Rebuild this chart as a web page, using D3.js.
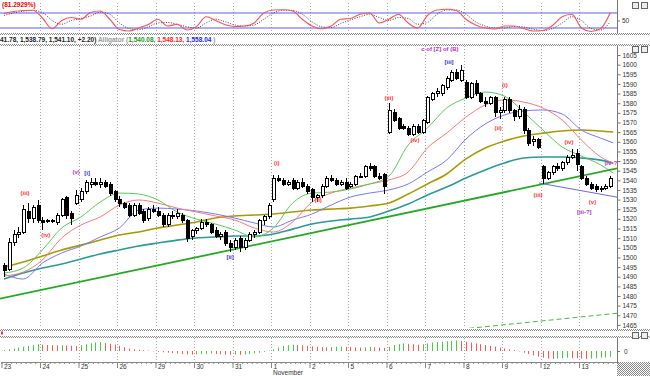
<!DOCTYPE html>
<html>
<head>
<meta charset="UTF-8">
<script src="https://cdn.jsdelivr.net/npm/d3@7"></script>
<style>
  body { margin: 0; background: #fff; }
  text { font-family: "Liberation Sans", Arial, sans-serif; }
</style>
</head>
<body>
<svg id="chart" width="650" height="376"></svg>
<script>
// ---- data ----
const days = ["23","24","25","26","29","30","31","1","2","5","6","7","8","9","12","13"];
const priceTicks = [1465,1470,1475,1480,1485,1490,1495,1500,1505,1510,1515,1520,1525,1530,1535,1540,1545,1550,1555,1560,1565,1570,1575,1580,1585,1590,1595,1600,1605];

const opens = [1496,1494,1508,1512,1513,1524,1520,1527, 1519,1519,1519,1518,1522,1531,1523,1528,
  1530,1534,1538,1539,1538,1539,1538,1534, 1530,1528,1527,1522,1527,1524,1520,1525,
  1524,1522,1517,1522,1521,1522,1519,1511, 1514,1515,1518,1517,1514,1511,1513,1507,
  1505,1510,1505,1509,1512,1513,1519,1521, 1530,1541,1540,1538,1540,1536,1539,1537,
  1535,1531,1532,1537,1541,1540,1538,1539, 1537,1538,1542,1542,1547,1547,1542,1543,
  1565,1575,1572,1568,1567,1564,1568,1565, 1570,1582,1585,1585,1588,1592,1596,1592,
  1591,1583,1590,1585,1581,1580,1583,1575, 1576,1582,1576,1573,1577,1566,1560,1561,
  1547,1541,1544,1547,1546,1549,1552,1554, 1547,1541,1538,1537,1535,1536,1537];
const highs = [1497,1510,1514,1516,1527,1528,1527,1530, 1521,1520,1520,1523,1531,1532,1524,1535,
  1536,1540,1541,1541,1541,1540,1539,1535, 1532,1529,1528,1528,1528,1525,1526,1527,
  1526,1523,1523,1524,1525,1523,1520,1515, 1516,1520,1520,1518,1516,1513,1514,1509,
  1510,1511,1510,1513,1514,1520,1522,1528, 1543,1543,1541,1540,1541,1540,1541,1538,
  1536,1533,1538,1542,1543,1541,1540,1541, 1539,1543,1544,1548,1549,1548,1544,1544,
  1580,1577,1573,1569,1568,1569,1569,1572, 1584,1586,1588,1590,1594,1597,1598,1600,
  1592,1591,1592,1586,1583,1584,1584,1578, 1583,1583,1577,1579,1578,1567,1563,1562,
  1548,1545,1548,1549,1550,1553,1556,1556, 1548,1542,1539,1538,1537,1538,1542];
const lows = [1490,1493,1506,1510,1512,1518,1518,1518, 1514,1518,1518,1517,1521,1520,1517,1527,
  1529,1533,1536,1537,1536,1536,1532,1529, 1526,1525,1521,1521,1522,1518,1519,1523,
  1521,1516,1516,1520,1520,1518,1508,1509, 1512,1514,1516,1512,1510,1509,1506,1503,
  1504,1503,1504,1508,1510,1512,1517,1520, 1529,1539,1537,1537,1535,1535,1536,1533,
  1529,1529,1531,1536,1539,1537,1537,1535, 1536,1537,1541,1541,1545,1541,1540,1533,
  1564,1570,1566,1566,1563,1563,1564,1564, 1569,1581,1583,1584,1587,1591,1592,1591,
  1582,1582,1584,1580,1578,1579,1573,1572, 1575,1575,1571,1572,1564,1558,1558,1556,
  1538,1540,1543,1545,1545,1548,1551,1545, 1540,1537,1535,1534,1534,1535,1536];
const closes = [1493,1508,1512,1513,1525,1520,1526,1519, 1518,1519,1519,1522,1530,1522,1520,1532,
  1534,1539,1539,1538,1539,1537,1533,1530, 1528,1526,1522,1527,1523,1519,1525,1524,
  1522,1517,1522,1521,1523,1519,1510,1514, 1515,1518,1517,1513,1511,1512,1507,1505,
  1509,1505,1509,1512,1513,1519,1521,1527, 1541,1540,1538,1539,1536,1539,1537,1534,
  1531,1532,1537,1541,1540,1538,1539,1536, 1538,1542,1542,1547,1546,1542,1541,1537,
  1576,1571,1567,1567,1564,1568,1565,1571, 1583,1585,1586,1589,1593,1596,1593,1597,
  1583,1590,1585,1581,1580,1583,1575,1576, 1582,1576,1573,1577,1566,1559,1561,1557,
  1541,1544,1547,1546,1549,1552,1553,1548, 1541,1538,1536,1535,1536,1537,1541];

// moving averages, sampled every 4 bars
const maIdx = [0,4,8,12,16,20,24,28,32,36,40,44,48,52,56,60,64,68,72,76,80,84,88,92,96,100,104,108,112,116,120,124,126.6];
const maOlive = [1495.0,1497.6,1500.7,1503.9,1506.4,1509.0,1511.6,1513.2,1515.3,1516.8,1518.4,1520.5,1521.5,1522.0,1522.5,1523.6,1524.6,1525.1,1525.6,1526.7,1528.2,1532.9,1538.1,1543.3,1551.1,1556.8,1560.4,1563.0,1564.5,1565.6,1566.1,1565.6,1565.1];
const maTeal = [1488.8,1491.9,1494.5,1496.6,1499.2,1501.8,1503.9,1505.9,1507.5,1509.0,1510.1,1510.6,1511.1,1511.1,1512.2,1514.7,1517.3,1518.9,1519.9,1521.0,1524.1,1527.7,1532.4,1536.5,1541.2,1545.4,1549.0,1551.6,1552.1,1552.1,1551.6,1550.5,1549.0];
const jaw = [1491.4,1488.8,1497.1,1502.3,1505.9,1510.6,1515.3,1524.6,1525.6,1525.1,1524.1,1522.5,1520.4,1517.9,1515.8,1519.4,1522.5,1527.2,1531.3,1533.4,1535.0,1538.1,1544.3,1550.5,1561.4,1569.2,1573.9,1576.0,1576.5,1574.4,1566.1,1561.9,1559.4];
const teeth = [1490.4,1492.4,1498.7,1510.1,1516.8,1521.0,1527.2,1529.8,1528.2,1525.6,1523.6,1521.5,1519.4,1515.3,1513.2,1518.4,1528.7,1533.4,1536.0,1538.1,1540.2,1544.3,1556.8,1564.5,1572.8,1579.1,1581.7,1580.6,1577.5,1571.3,1560.9,1552.1,1549.0];
const lips = [1491.9,1494.5,1503.9,1515.3,1521.0,1528.7,1533.4,1532.9,1529.8,1523.6,1519.9,1517.3,1514.2,1510.6,1515.3,1528.2,1533.4,1533.9,1535.5,1538.1,1542.2,1558.3,1567.1,1577.5,1582.7,1585.8,1583.7,1575.4,1566.1,1557.3,1552.6,1548.0,1543.8];

// drawn trend lines [bar, price]
const trendMain = [[-1, 1478.5], [128, 1546.5]];
const trendLower = [[111.2, 1538.6], [128, 1531.0]];
const trendDashed = [[95, 1462.8], [128, 1471.2]];

// stochastic, every 2 bars
const stIdx = [0,2,4,6,8,10,12,14,16,18,20,22,24,26,28,30,32,34,36,38,40,42,44,46,48,50,52,54,56,58,60,62,64,66,68,70,72,74,76,78,80,82,84,86,88,90,92,94,96,98,100,102,104,106,108,110,112,114,116,118,120,122,124,126];
const stK = [78,86,90,91,60,17,50,62,55,82,88,55,14,8,20,34,55,28,35,12,25,65,50,33,26,28,40,80,92,93,88,55,28,17,28,55,58,75,80,40,55,75,40,20,70,92,95,90,55,32,20,16,28,28,18,8,10,30,65,75,20,6,18,81.3];
const stD = [70,80,87,90,82,50,35,50,58,68,83,75,40,18,13,25,40,42,35,25,20,40,55,45,32,28,32,55,80,91,90,75,45,25,22,38,52,65,75,62,50,62,58,35,42,75,92,92,75,45,28,20,20,26,24,15,10,18,40,65,50,18,12,45];

// lower histogram, one per bar
const hist = [1,2,3,4,5,6,7,8, 7.5,7,6.8,6.5,6.8,6.5,6.2,6, 7,8,9,10,10.5,9.5,8.5,7.5,
  6,4.5,3,2,1.5,1,0.5,-0.5, -1,-1.5,-2,-2.5,-3,-3.5,-4,-4.2, -4,-3.6,-3.3,-3,-3.5,-4,-4.3,-4.5,
  -4.2,-4.5,-4,-3.5,-2.8,-2,-1,0.5, 2,4,6,7,7.5,7,6.5,6, 5.5,5,4.5,4.2,4.5,5,5.2,4.8,
  4.5,4.2,4,4.3,4.8,4.4,4,3.6, 5,7,8,9,8.5,8,7.5,8, 9,10,10.5,11,11.5,12,12.5,12,
  11,10,9,8,7,6,5,4, 3,2,1,-0.5,-2,-3.5,-5,-6.5, -8,-9,-9.5,-9,-8.5,-8,-8.3,-8.6,
  -9,-9.5,-9,-8.5,-8,-7.5,-7];

// wave labels [text, bar, price, kind]
const waves = [
  ["(iii)", 4.4, 1533.4, "r"], ["(iv)", 8.7, 1511.6, "r"], ["(v)", 15.0, 1544.3, "p"], ["[i]", 17.3, 1543.8, "b"],
  ["[ii]", 47.0, 1500.2, "b"], ["(i)", 56.7, 1549.0, "r"], ["(ii)", 65.3, 1529.8, "r"], ["(iii)", 80.0, 1582.7, "r"],
  ["(iv)", 85.4, 1560.9, "r"], ["c of [Z] of (B)", 90.6, 1608.0, "p"], ["[iii]", 92.5, 1601.4, "b"], ["(i)", 104.1, 1589.4, "r"],
  ["(ii)", 102.7, 1567.1, "r"], ["(iii)", 111.0, 1532.4, "r"], ["(iv)", 117.4, 1559.9, "r"], ["(iv-?)", 126.3, 1549.0, "p"],
  ["(v)", 122.3, 1528.8, "r"], ["[iii-?]", 120.6, 1523.6, "p"]
];

// ---- drawing ----
const svg = d3.select("#chart");
const x = d3.scaleLinear().domain([0, 128]).range([1.5, 617.5]);
const y = d3.scaleLinear().domain([1463.4, 1610.2]).range([328, 45]);
const ys = d3.scaleLinear().domain([0, 100]).range([33, 8]);
const yh = d3.scaleLinear().domain([-13, 13]).range([362, 340]);
const cx = i => Math.round(x(i + 0.5)) + 0.5;

const defs = svg.append("defs");
const pat = defs.append("pattern").attr("id", "chk").attr("width", 2).attr("height", 2).attr("patternUnits", "userSpaceOnUse");
pat.append("rect").attr("width", 2).attr("height", 2).attr("fill", "#fff");
pat.append("rect").attr("width", 1).attr("height", 1).attr("fill", "#888");
pat.append("rect").attr("x", 1).attr("y", 1).attr("width", 1).attr("height", 1).attr("fill", "#888");
defs.append("clipPath").attr("id", "mainClip").append("rect").attr("x", 0).attr("y", 46).attr("width", 617).attr("height", 282);
defs.append("clipPath").attr("id", "topClip").append("rect").attr("x", 0).attr("y", 3).attr("width", 617).attr("height", 30);

// separators
[[33, 2], [44, 2], [329, 2], [336, 2]].forEach(([yy, h]) => {
  svg.append("rect").attr("x", 0).attr("y", yy).attr("width", 650).attr("height", h).attr("fill", "url(#chk)");
});
svg.append("rect").attr("x", 617).attr("y", 362).attr("width", 33).attr("height", 14).attr("fill", "url(#chk)");

// vertical dotted grid per day
const dayIdx = days.map((d, k) => k * 8);
[[3, 33], [46, 328], [338, 362]].forEach(([y0, y1]) => {
  svg.append("g").selectAll("line").data(dayIdx.slice(1)).join("line")
    .attr("x1", d => Math.round(x(d)) + 0.5).attr("x2", d => Math.round(x(d)) + 0.5)
    .attr("y1", y0).attr("y2", y1)
    .attr("stroke", "#aaa").attr("stroke-dasharray", "1,2");
});

// right axis lines
[[0, 33], [46, 329], [338, 362]].forEach(([y0, y1]) => {
  svg.append("line").attr("x1", 617.5).attr("x2", 617.5).attr("y1", y0).attr("y2", y1).attr("stroke", "#777");
});

// ---- top stochastic panel ----
const topG = svg.append("g").attr("clip-path", "url(#topClip)");
[80, 20].forEach(v => {
  topG.append("line").attr("x1", 0).attr("x2", 617).attr("y1", ys(v)).attr("y2", ys(v))
    .attr("stroke", "#7777ff").attr("stroke-width", 1.5).attr("opacity", 0.8);
});
const stLine = arr => d3.line().x((d, k) => x(stIdx[k] + 0.5)).y(d => ys(d)).curve(d3.curveMonotoneX)(arr);
topG.append("path").attr("d", stLine(stD)).attr("fill", "none").attr("stroke", "#444").attr("stroke-dasharray", "1,1.5");
topG.append("path").attr("d", stLine(stK)).attr("fill", "none").attr("stroke", "#ff5555").attr("stroke-width", 1.2);
svg.append("text").attr("x", 2).attr("y", 7).attr("font-size", 6.5).attr("font-weight", "bold").attr("fill", "#e00").text("(81.2929%)");
svg.append("text").attr("x", 622).attr("y", 22.5).attr("font-size", 6.5).attr("fill", "#333").text("50");
svg.append("line").attr("x1", 617).attr("x2", 620).attr("y1", ys(50) + 0.5).attr("y2", ys(50) + 0.5).attr("stroke", "#777");

// panel icons
[2, 46, 332].forEach(yy => {
  [632, 641].forEach(xx => {
    svg.append("rect").attr("x", xx + 0.5).attr("y", yy + 0.5).attr("width", 6).attr("height", 6)
      .attr("fill", "#eee").attr("stroke", "#666");
  });
});

// ---- header ----
const hdr = svg.append("text").attr("x", 0).attr("y", 42).attr("font-size", 6.5).attr("font-weight", "bold");
hdr.append("tspan").attr("fill", "#222").text("41.78, 1,538.79, 1,541.10, +2.20) ");
hdr.append("tspan").attr("fill", "#999").text("Alligator (");
hdr.append("tspan").attr("fill", "#1a9a1a").text("1,540.08, ");
hdr.append("tspan").attr("fill", "#ff2222").text("1,548.13, ");
hdr.append("tspan").attr("fill", "#2222ff").text("1,558.04");
hdr.append("tspan").attr("fill", "#999").text(" )");

// ---- main panel ----
const main = svg.append("g").attr("clip-path", "url(#mainClip)");
const maLine = arr => d3.line().x((d, k) => x(maIdx[k] + 0.5)).y(d => y(d)).curve(d3.curveMonotoneX)(arr);
const trend = pts => d3.line().x(d => x(d[0] + 0.5)).y(d => y(d[1]))(pts);

main.append("path").attr("d", trend(trendDashed)).attr("fill", "none").attr("stroke", "#44bb44").attr("stroke-dasharray", "5,3");
main.append("path").attr("d", maLine(maTeal)).attr("fill", "none").attr("stroke", "#2a9a9a").attr("stroke-width", 1.6);
main.append("path").attr("d", maLine(maOlive)).attr("fill", "none").attr("stroke", "#a89a00").attr("stroke-width", 1.6);
main.append("path").attr("d", maLine(jaw)).attr("fill", "none").attr("stroke", "#7777ff").attr("stroke-width", 1);
main.append("path").attr("d", maLine(teeth)).attr("fill", "none").attr("stroke", "#ff7777").attr("stroke-width", 1);
main.append("path").attr("d", maLine(lips)).attr("fill", "none").attr("stroke", "#55cc55").attr("stroke-width", 1);
main.append("path").attr("d", trend(trendMain)).attr("fill", "none").attr("stroke", "#22aa22").attr("stroke-width", 1.8);
main.append("path").attr("d", trend(trendLower)).attr("fill", "none").attr("stroke", "#6666ff").attr("stroke-width", 1);

// candles
const bars = closes.map((c, i) => ({ i, o: opens[i], h: highs[i], l: lows[i], c }));
main.append("g").selectAll("line").data(bars).join("line")
  .attr("x1", d => cx(d.i)).attr("x2", d => cx(d.i))
  .attr("y1", d => y(d.h)).attr("y2", d => y(d.l))
  .attr("stroke", "#000").attr("shape-rendering", "crispEdges");
main.append("g").selectAll("rect").data(bars).join("rect")
  .attr("x", d => cx(d.i) - 1.5).attr("width", 3)
  .attr("y", d => y(Math.max(d.o, d.c)))
  .attr("height", d => Math.max(1, Math.abs(y(d.o) - y(d.c))))
  .attr("fill", d => d.c >= d.o ? "#fff" : "#000")
  .attr("stroke", "#000").attr("stroke-width", 1).attr("shape-rendering", "crispEdges");

// wave labels
const waveColor = { r: "#ff3030", p: "#b030c0", b: "#3030e0" };
main.append("g").selectAll("text").data(waves).join("text")
  .attr("x", d => x(d[1] + 0.5)).attr("y", d => y(d[2]))
  .attr("text-anchor", "middle").attr("dominant-baseline", "middle")
  .attr("font-size", 6).attr("font-weight", "bold")
  .attr("fill", d => waveColor[d[3]]).text(d => d[0]);

// right price axis
const ax = svg.append("g").attr("transform", "translate(617.5,0)")
  .call(d3.axisRight(y).tickValues(priceTicks).tickSize(3).tickFormat(d3.format("d")));
ax.select(".domain").remove();
ax.selectAll("line").attr("stroke", "#777");
ax.selectAll("text").attr("font-size", 6.5).attr("fill", "#333").attr("x", 5)
  .style("font-family", "'Liberation Sans', Arial, sans-serif");

// ---- lower histogram panel ----
svg.append("rect").attr("x", 1).attr("y", 331.5).attr("width", 2).attr("height", 3).attr("fill", "#f33");
svg.append("g").selectAll("line").data(hist).join("line")
  .attr("x1", (d, i) => cx(i)).attr("x2", (d, i) => cx(i))
  .attr("y1", yh(0)).attr("y2", d => yh(d))
  .attr("stroke", (d, i) => (i === 0 || d > hist[i - 1]) ? "#44cc44" : "#ff5555")
  .attr("stroke-width", 1);
svg.append("text").attr("x", 624).attr("y", yh(0) + 2.5).attr("font-size", 6.5).attr("fill", "#333").text("0");
svg.append("line").attr("x1", 617).attr("x2", 620).attr("y1", yh(0) + 0.5).attr("y2", yh(0) + 0.5).attr("stroke", "#777");

// ---- bottom date axis ----
const xa = svg.append("g").attr("transform", "translate(0,362)")
  .call(d3.axisBottom(x).tickValues(d3.range(0, 128)).tickSize(2).tickFormat(""));
xa.select(".domain").attr("stroke", "#888");
xa.selectAll("line").attr("stroke", "#888");
const xl = svg.append("g").attr("transform", "translate(0,362)")
  .call(d3.axisBottom(x).tickValues(dayIdx).tickSize(6).tickFormat((d, k) => days[k]));
xl.select(".domain").remove();
xl.selectAll("line").attr("stroke", "#888");
xl.selectAll("text").attr("text-anchor", "start").attr("dx", 2).attr("y", 2).attr("dy", "0.71em")
  .attr("font-size", 6.5).attr("fill", "#333").style("font-family", "'Liberation Sans', Arial, sans-serif");
svg.append("text").attr("x", x(56) + 2).attr("y", 375).attr("font-size", 6.5).attr("fill", "#333").text("November");
</script>
</body>
</html>
